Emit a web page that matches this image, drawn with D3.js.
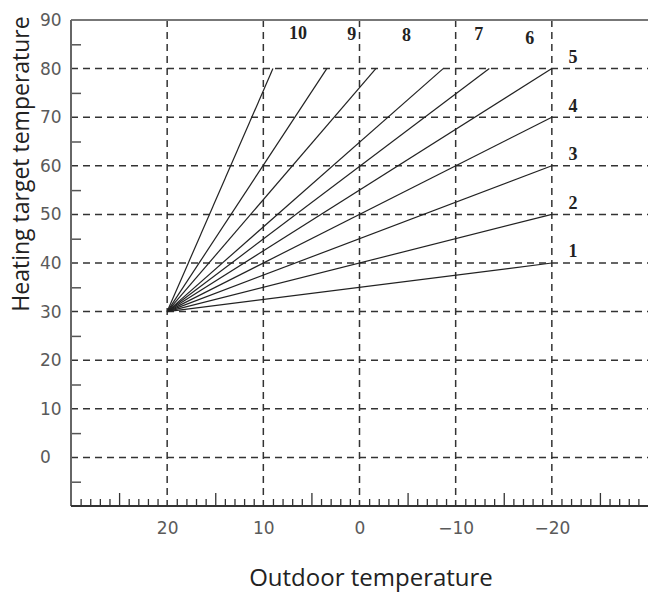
<!DOCTYPE html>
<html><head><meta charset="utf-8">
<script src="https://cdn.jsdelivr.net/npm/d3@7"></script>
<style>body{margin:0;background:#fff}svg{display:block}</style>
</head><body><svg id="c" width="648" height="592"></svg>
<script>
// ---- data ----
const curveIds = [1, 2, 3, 4, 5, 6, 7, 8, 9, 10];
const startOutdoor = 20;
const startTarget = 30;
const endOutdoor = [-20, -20, -20, -20, -20, -13.5, -8.7, -1.7, 3.4, 9];
const endTarget = [40, 50, 60, 70, 80, 80, 80, 80, 80, 80];
const labelOutdoor = [-22.2, -22.2, -22.2, -22.2, -22.2, -17.7, -12.4, -4.9, 0.8, 6.4];
const labelTarget = [42.4, 52.4, 62.4, 72.4, 82.4, 86.3, 87.1, 87.0, 87.1, 87.4];
const xTicks = [20, 10, 0, -10, -20];
const yTicks = [0, 10, 20, 30, 40, 50, 60, 70, 80, 90];
const xTitle = "Outdoor temperature";
const yTitle = "Heating target temperature";

// ---- chart ----
const svg = d3.select("#c");
const L = 71, R = 648, T = 20, B = 506;
const x = d3.scaleLinear().domain([30, -30]).range([L, R]);
const y = d3.scaleLinear().domain([-10, 90]).range([B, T]);

// horizontal gridlines
svg.append("g").selectAll("line").data(yTicks.filter(v => v < 90)).join("line")
  .attr("x1", L).attr("x2", R).attr("y1", d => y(d)).attr("y2", d => y(d))
  .attr("stroke", "#333").attr("stroke-width", 1.5).attr("stroke-dasharray", "7,5");
// vertical gridlines
svg.append("g").selectAll("line").data(xTicks).join("line")
  .attr("x1", d => x(d)).attr("x2", d => x(d)).attr("y1", T).attr("y2", B)
  .attr("stroke", "#333").attr("stroke-width", 1.5).attr("stroke-dasharray", "7,5");

// minor ticks x (each degree, longer at 5s)
const minorX = d3.range(-29, 30).filter(v => v % 10 !== 0);
const gMinor = svg.append("g").attr("transform", `translate(0,${B})`)
  .call(d3.axisBottom(x).tickValues(minorX.filter(v => v % 5 !== 0)).tickSize(-7).tickFormat(""));
gMinor.select(".domain").remove();
gMinor.selectAll("line").attr("stroke", "#333").attr("stroke-width", 1.3);
const gMid = svg.append("g").attr("transform", `translate(0,${B})`)
  .call(d3.axisBottom(x).tickValues(minorX.filter(v => v % 5 === 0)).tickSize(-13).tickFormat(""));
gMid.select(".domain").remove();
gMid.selectAll("line").attr("stroke", "#333").attr("stroke-width", 1.3);

// minor ticks y at 5s
const gMinY = svg.append("g").attr("transform", `translate(${L},0)`)
  .call(d3.axisLeft(y).tickValues(d3.range(-5, 90, 10)).tickSize(-10).tickFormat(""));
gMinY.select(".domain").remove();
gMinY.selectAll("line").attr("stroke", "#555").attr("stroke-width", 1.5);

// frame lines
svg.append("line").attr("x1", L).attr("x2", R).attr("y1", T).attr("y2", T)
  .attr("stroke", "#777").attr("stroke-width", 2);
svg.append("line").attr("x1", L).attr("x2", L).attr("y1", T).attr("y2", B)
  .attr("stroke", "#666").attr("stroke-width", 2);
svg.append("line").attr("x1", L).attr("x2", R).attr("y1", B).attr("y2", B)
  .attr("stroke", "#333").attr("stroke-width", 2);

// tick labels
const gx = svg.append("g").attr("transform", `translate(0,${B})`)
  .call(d3.axisBottom(x).tickValues(xTicks).tickSize(0).tickPadding(16).tickFormat(d => d < 0 ? "\u2212" + Math.abs(d) : d));
gx.select(".domain").remove();
gx.selectAll("text").attr("font-family", "DejaVu Sans").attr("font-size", 17).attr("fill", "#5a5a5a");

const gy = svg.append("g").attr("transform", `translate(${L},0)`)
  .call(d3.axisLeft(y).tickValues(yTicks).tickSize(0));
gy.select(".domain").remove();
gy.selectAll("text").attr("x", -31).attr("text-anchor", "start")
  .attr("font-family", "DejaVu Sans").attr("font-size", 17).attr("fill", "#5a5a5a");

// curves
svg.append("g").selectAll("line").data(curveIds).join("line")
  .attr("x1", x(startOutdoor)).attr("y1", y(startTarget))
  .attr("x2", (d, i) => x(endOutdoor[i])).attr("y2", (d, i) => y(endTarget[i]))
  .attr("stroke", "#222").attr("stroke-width", 1.2);

// curve labels
svg.append("g").selectAll("text").data(curveIds).join("text")
  .attr("x", (d, i) => x(labelOutdoor[i])).attr("y", (d, i) => y(labelTarget[i]))
  .attr("text-anchor", "middle").attr("dominant-baseline", "central")
  .attr("font-family", "Liberation Serif").attr("font-weight", "bold").attr("font-size", 18)
  .attr("fill", "#222").text(d => d);

// titles
svg.append("text").attr("x", 371).attr("y", 586).attr("text-anchor", "middle")
  .attr("font-family", "Open Sans").attr("font-size", 24).attr("fill", "#222").text(xTitle);
svg.append("text").attr("transform", "translate(29,164) rotate(-90)").attr("text-anchor", "middle")
  .attr("font-family", "Open Sans").attr("font-size", 23).attr("fill", "#222").text(yTitle);
</script></body></html>
